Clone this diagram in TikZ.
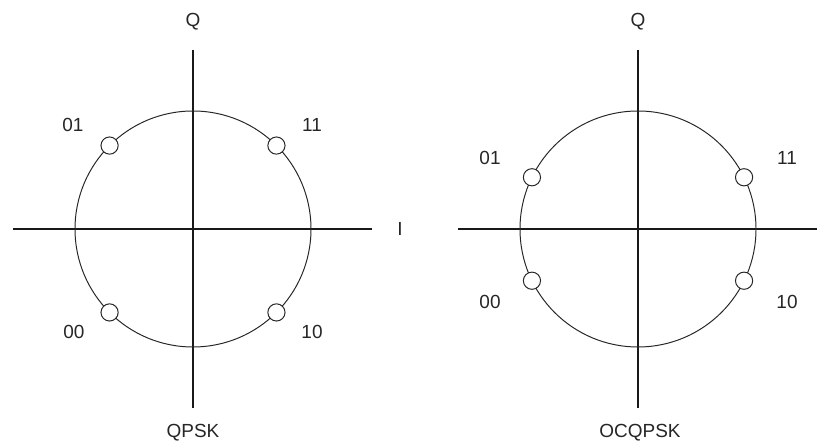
\documentclass[tikz,border=0pt]{standalone}
\usepackage{fontspec}
\setmainfont{Liberation Sans}
\usetikzlibrary{positioning}
\tikzset{
  ax/.style={line width=0.9pt,black!90},
  ring/.style={line width=0.7pt,black!85},
  sym/.style={circle,draw=black!85,line width=0.7pt,fill=white,minimum size=0.43cm,inner sep=0pt},
  lbl/.style={font=\fontsize{13.5}{15}\selectfont,text=black!85,inner sep=1pt},
}
\begin{document}
\begin{tikzpicture}[x=0.025cm,y=-0.025cm]
\useasboundingbox (0,0) rectangle (840,444);
% QPSK
\coordinate (c1) at (193,229);
\coordinate (v1t) at (193,50);
\coordinate (v1b) at (193,408);
\coordinate (h1l) at (13,229);
\coordinate (h1r) at (372,229);
\node[lbl] (q1) at (193,22) {Q};
\node[lbl] (i1) at (400,229) {I};
\node[lbl] (n1) at (193,433) {QPSK};
\draw[ax] (v1t) -- (v1b);
\draw[ax] (h1l) -- (h1r);
\draw[ring] (c1) circle[radius=118];
\foreach \a/\n in {-45/11,-135/01,135/00,45/10}
  \node[sym] (a\n) at ([shift={(\a:118)}]c1) {};
\node[lbl] (la01) at (73,125) {01};
\node[lbl] (la11) at (312,125) {11};
\node[lbl] (la00) at (74,332) {00};
\node[lbl] (la10) at (312,332) {10};
% OCQPSK
\coordinate (c2) at (638,229);
\coordinate (v2t) at (638,50);
\coordinate (v2b) at (638,408);
\coordinate (h2l) at (458,229);
\coordinate (h2r) at (817,229);
\node[lbl] (q2) at (638,22) {Q};
\node[lbl] (n2) at (640,433) {OCQPSK};
\draw[ax] (v2t) -- (v2b);
\draw[ax] (h2l) -- (h2r);
\draw[ring] (c2) circle[radius=118];
\foreach \a/\n in {-26/11,-154/01,154/00,26/10}
  \node[sym] (b\n) at ([shift={(\a:118)}]c2) {};
\node[lbl] (lb01) at (490,158) {01};
\node[lbl] (lb11) at (787,158) {11};
\node[lbl] (lb00) at (490,302) {00};
\node[lbl] (lb10) at (787,302) {10};
\end{tikzpicture}
\end{document}
